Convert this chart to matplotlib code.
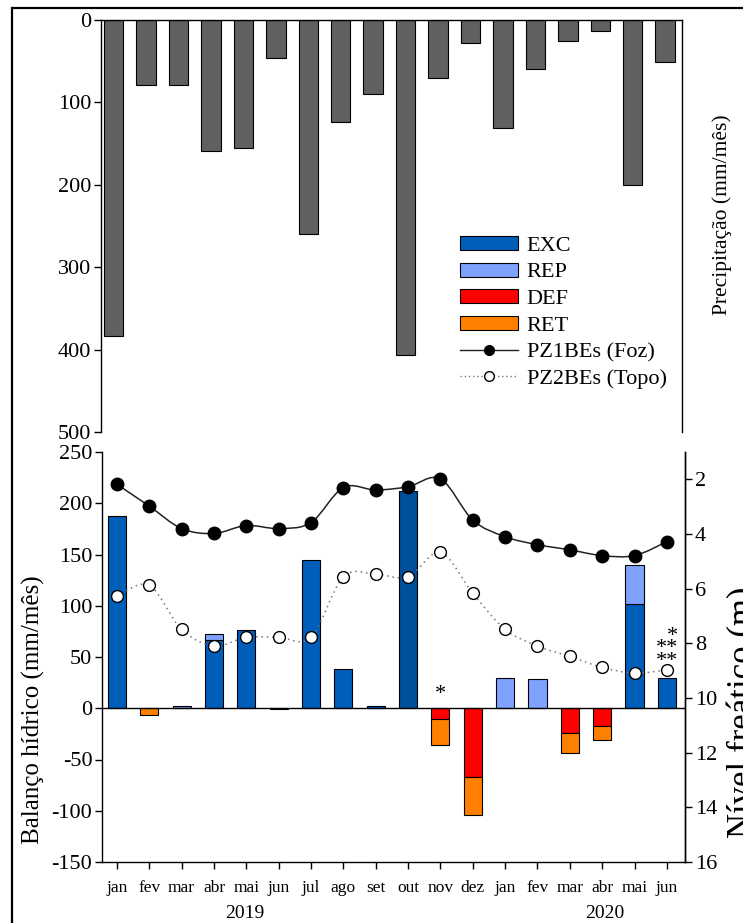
import numpy as np
import matplotlib
matplotlib.use("Agg")
import matplotlib.pyplot as plt
from matplotlib.path import Path
from matplotlib.patches import PathPatch, Patch, Rectangle
from matplotlib.lines import Line2D
import matplotlib.transforms as mtransforms

plt.rcParams['font.family'] = ['Liberation Serif', 'DejaVu Serif']
plt.rcParams['axes.unicode_minus'] = False

# ---------------- data ----------------
months = ['jan', 'fev', 'mar', 'abr', 'mai', 'jun', 'jul', 'ago', 'set',
          'out', 'nov', 'dez', 'jan', 'fev', 'mar', 'abr', 'mai', 'jun']
years = ['2019', '2020']
precip = [383, 79, 79, 159, 155, 46, 260, 124, 90, 406, 70, 28, 131, 60, 26, 13, 200, 51]
exc = [188, 0, 0, 67, 76, 0, 145, 38, 2, 212, 0, 0, 0, 0, 0, 0, 102, 30]
rep = [0, 0, 2, 5, 0, 0, 0, 0, 0, 0, 0, 0, 30, 29, 0, 0, 38, 0]
deficit = [0, 0, 0, 0, 0, 0, 0, 0, 0, 0, -10, -67, 0, 0, -24, -17, 0, 0]
ret = [0, -7, 0, 0, 0, -1, 0, 0, 0, 0, -26, -37, 0, 0, -20, -14, 0, 0]
pz1 = [2.18, 2.98, 3.80, 3.98, 3.69, 3.80, 3.58, 2.30, 2.39, 2.27, 1.98, 3.49,
       4.10, 4.39, 4.58, 4.79, 4.79, 4.28]
pz2 = [6.27, 5.88, 7.49, 8.10, 7.78, 7.78, 7.78, 5.57, 5.47, 5.57, 4.67, 6.17,
       7.49, 8.10, 8.48, 8.88, 9.09, 8.97]

# ---------------- style ----------------
C_EXC = '#005EBB'
C_EXC_DARK = '#004F9C'
C_REP = '#7FA2FF'
C_DEF = '#FF0000'
C_RET = '#FF8000'
C_PRE = '#606060'

W, H = 743, 923
fig = plt.figure(figsize=(W / 100, H / 100), dpi=100)

def fx(px):
    return px / W

def fy(py):
    return 1 - py / H

x = np.arange(len(months))

# ---------------- top panel: precipitation ----------------
axt = fig.add_axes([fx(101), fy(432), fx(682) - fx(101), fy(20) - fy(432)])
axt.bar(x, precip, width=0.6, color=C_PRE, edgecolor='black', linewidth=0.8, zorder=2)
axt.set_ylim(500, 0)
axt.set_xlim(-0.39, 17.52)
axt.set_yticks([0, 100, 200, 300, 400, 500])
axt.tick_params(axis='y', direction='out', length=5, width=1, labelsize=16, pad=2)
axt.set_xticks([])
axt.spines['bottom'].set_visible(False)
for s in ['left', 'top', 'right']:
    axt.spines[s].set_linewidth(1)

# ---------------- bottom panel: water balance ----------------
axb = fig.add_axes([fx(102), fy(862), fx(685) - fx(102), fy(452) - fy(862)])
exc_colors = [C_EXC] * len(months)
exc_colors[9] = C_EXC_DARK
bw = 0.56
exc_a = np.array(exc)
rep_a = np.array(rep)
def_a = np.array(deficit)
ret_a = np.array(ret)
for i in range(len(months)):
    if exc_a[i]:
        axb.bar(x[i], exc_a[i], width=bw, color=exc_colors[i], edgecolor='black', linewidth=0.8, zorder=2)
    if rep_a[i]:
        axb.bar(x[i], rep_a[i], bottom=exc_a[i], width=bw, color=C_REP, edgecolor='black', linewidth=0.8, zorder=2)
    if def_a[i]:
        axb.bar(x[i], def_a[i], width=bw, color=C_DEF, edgecolor='black', linewidth=0.8, zorder=2)
    if ret_a[i]:
        axb.bar(x[i], ret_a[i], bottom=def_a[i], width=bw, color=C_RET, edgecolor='black', linewidth=0.8, zorder=2)
axb.axhline(0, color='black', linewidth=1, zorder=3)
axb.set_ylim(-150, 250)
axb.set_xlim(-0.46, 17.56)
axb.set_yticks(np.arange(-150, 251, 50))
axb.set_xticks(x)
axb.set_xticklabels(months, fontsize=12.5)
axb.tick_params(axis='y', direction='out', length=5, width=1, labelsize=16, pad=2)
axb.tick_params(axis='x', direction='out', length=5, width=1, pad=8)
axb.spines['top'].set_visible(False)
for s in ['left', 'bottom', 'right']:
    axb.spines[s].set_linewidth(1)

# year labels
trans = mtransforms.blended_transform_factory(axb.transData, fig.transFigure)
axb.text(3.96, fy(913), years[0], transform=trans, ha='center', va='center', fontsize=14)
axb.text(15.08, fy(913), years[1], transform=trans, ha='center', va='center', fontsize=14)

# asterisks
axb.text(10.0, 13, '*', ha='center', va='center', fontsize=16, zorder=5)
axb.text(17.36, 58, '*\n**\n**', ha='right', va='center', multialignment='right',
         linespacing=0.55, fontsize=16, zorder=5)

# ---------------- right axis: water table ----------------
axr = axb.twinx()
axr.set_ylim(16, 1)
axr.set_yticks([2, 4, 6, 8, 10, 12, 14, 16])
axr.tick_params(axis='y', direction='out', length=5, width=1, labelsize=16, pad=2)
for s in axr.spines.values():
    s.set_visible(False)
axr.spines['right'].set_visible(True)
axr.spines['right'].set_linewidth(1)


def smooth_path(xs, ys):
    pts = np.column_stack([xs, ys]).astype(float)
    n = len(pts)
    verts = [pts[0]]
    codes = [Path.MOVETO]
    for i in range(n - 1):
        p0 = pts[i - 1] if i > 0 else pts[i]
        p1 = pts[i]
        p2 = pts[i + 1]
        p3 = pts[i + 2] if i + 2 < n else pts[i + 1]
        c1 = p1 + (p2 - p0) / 6.0
        c2 = p2 - (p3 - p1) / 6.0
        verts += [c1, c2, p2]
        codes += [Path.CURVE4] * 3
    return Path(verts, codes)


axr.add_patch(PathPatch(smooth_path(x, pz1), fill=False, edgecolor='#222222', linewidth=1.1, zorder=3))
axr.add_patch(PathPatch(smooth_path(x, pz2), fill=False, edgecolor='#777777', linewidth=1.1,
                        linestyle=(0, (1, 2.5)), zorder=3))
axr.plot(x, pz1, linestyle='none', marker='o', markersize=9, markerfacecolor='black',
         markeredgecolor='black', zorder=4)
axr.plot(x, pz2, linestyle='none', marker='o', markersize=8.5, markerfacecolor='white',
         markeredgecolor='black', markeredgewidth=1, zorder=4)

# ---------------- axis labels ----------------
fig.text(fx(33), fy(710), 'Balanço hídrico (mm/mês)', rotation=90, ha='center', va='center', fontsize=18)
fig.text(fx(722), fy(215), 'Precipitação (mm/mês)', rotation=90, ha='center', va='center', fontsize=15.5)
fig.text(fx(727), fy(712), 'Nível freático (m)', rotation=90, ha='left', va='center', fontsize=25)

# ---------------- legend ----------------
handles = [
    Patch(facecolor=C_EXC, edgecolor='black', linewidth=0.8, label='EXC'),
    Patch(facecolor=C_REP, edgecolor='black', linewidth=0.8, label='REP'),
    Patch(facecolor=C_DEF, edgecolor='black', linewidth=0.8, label='DEF'),
    Patch(facecolor=C_RET, edgecolor='black', linewidth=0.8, label='RET'),
    Line2D([], [], color='#222222', linewidth=1, marker='o', markersize=7,
           markerfacecolor='black', markeredgecolor='black', label='PZ1BEs (Foz)'),
    Line2D([], [], color='#777777', linewidth=1, linestyle=(0, (1, 2)), marker='o', markersize=7,
           markerfacecolor='white', markeredgecolor='black', label='PZ2BEs (Topo)'),
]
fig.legend(handles=handles, loc='upper left', bbox_to_anchor=(fx(460), fy(236)),
           frameon=False, fontsize=16, handlelength=2.6, handleheight=0.6,
           handletextpad=0.4, labelspacing=0.3, borderpad=0, borderaxespad=0)

# ---------------- outer frame ----------------
fig.patches.append(Rectangle((fx(12), -0.05), 1.1, fy(8) + 0.05, transform=fig.transFigure,
                             fill=False, edgecolor='black', linewidth=1.6, zorder=10))

fig.savefig('out.png', dpi=100)
